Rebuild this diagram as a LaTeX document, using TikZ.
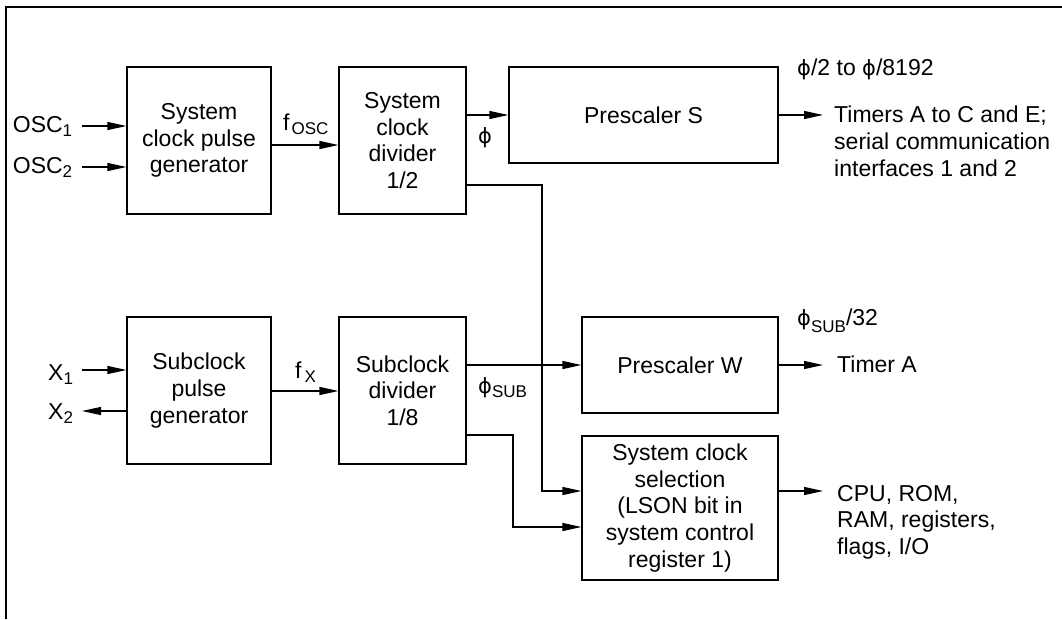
\documentclass[tikz,border=0pt]{standalone}
\usepackage{fontspec}
\setmainfont{Liberation Sans}
\newfontfamily\phifont{DejaVu Sans}
\usetikzlibrary{arrows.meta}
\newcommand{\mysub}[1]{\raisebox{-4pt}{\fontsize{17}{17}\selectfont #1}}
\newcommand{\myphi}{{\phifont\fontsize{21}{21}\selectfont ϕ}}
\begin{document}
\begin{tikzpicture}[x=1pt,y=-1pt,
  box/.style={draw, line width=1.2pt, align=center, inner sep=0pt, font=\fontsize{23}{26.7}\selectfont},
  arr/.style={line width=1.2pt, -{Triangle[length=19pt,width=8pt]}},
  lbl/.style={inner sep=0pt, anchor=base west, font=\fontsize{23}{26.7}\selectfont},
  multi/.style={inner sep=0pt, anchor=north west, align=left, font=\fontsize{23}{26.7}\selectfont}]
\useasboundingbox (0,0) rectangle (1062,619);
% frame
\draw[line width=2pt] (6,619) -- (6,7) -- (1062,7);

% boxes
\node[box, minimum width=144pt, minimum height=147pt] (b1) at (199,140.5) {System\\clock pulse\\generator};
\node[box, minimum width=127pt, minimum height=147pt] (b2) at (402.5,140.5) {System\\clock\\divider\\1/2};
\node[box, minimum width=269pt, minimum height=96pt] (b3) at (643.5,115) {Prescaler S};
\node[box, minimum width=144pt, minimum height=147pt] (b4) at (199,390.5) {Subclock\\pulse\\generator};
\node[box, minimum width=127pt, minimum height=147pt] (b5) at (402.5,390.5) {Subclock\\divider\\1/8};
\node[box, minimum width=196pt, minimum height=96pt] (b6) at (680,365) {Prescaler W};
\node[box, minimum width=196pt, minimum height=144pt] (b7) at (680,508) {System clock\\selection\\(LSON bit in\\system control\\register 1)};

% labels
\node[lbl] (osc1) at (12.7,132) {OSC\mysub{1}};
\node[lbl] (osc2) at (12.7,173) {OSC\mysub{2}};
\node[lbl] (x1) at (48,380) {X\mysub{1}};
\node[lbl] (x2) at (48,419) {X\mysub{2}};
\node[lbl] (fosc) at (283,130) {f\kern2pt\mysub{OSC}};
\node[lbl] (fx) at (295,378) {f\kern3pt\mysub{X}};
\node[lbl] (phi) at (478,143) {\myphi};
\node[lbl] (phisub) at (478,393) {\myphi\raisebox{-4pt}{\fontsize{17}{17}\selectfont SUB}};
\node[lbl] (rs) at (797,75) {\myphi/2 to \myphi/8192};
\node[lbl] (rw) at (797,325) {\myphi\raisebox{-7pt}{\fontsize{17}{17}\selectfont SUB}/32};
\node[multi] (outs) at (834,106) {Timers A to C and E;\\serial communication\\interfaces 1 and 2};
\node[lbl] (outw) at (837,372.7) {Timer A};
\node[multi] (outc) at (837,485) {CPU, ROM,\\RAM, registers,\\flags, I/O};

% coordinates
\coordinate (i1) at (82,126);
\coordinate (i2) at (82,167);
\coordinate (i3) at (82,370);
\coordinate (i4) at (82,411);
\coordinate (fo) at (300,145);
\coordinate (fxx) at (300,391);
\coordinate (j1) at (542,185);
\coordinate (s1) at (542,491);
\coordinate (j2) at (513,435);
\coordinate (s2) at (513,527);
\coordinate (o3) at (823,115);
\coordinate (o6) at (823,365);
\coordinate (o7) at (823,491);

% connectors
\draw[arr] (i1) -- (i1 -| b1.west);
\draw[arr] (i2) -- (i2 -| b1.west);
\draw[arr] (i3) -- (i3 -| b4.west);
\draw[arr] (i4 -| b4.west) -- (i4);
\draw[arr] (fo -| b1.east) -- (fo -| b2.west);
\draw[arr] (fxx -| b4.east) -- (fxx -| b5.west);
\draw[arr] (b2.east |- b3.west) -- (b3.west);
\draw[arr] (b5.east |- b6.west) -- (b6.west);
\draw[arr] (j1 -| b2.east) -- (j1) -- (s1) -- (s1 -| b7.west);
\draw[arr] (j2 -| b5.east) -- (j2) -- (s2) -- (s2 -| b7.west);
\draw[arr] (b3.east) -- (o3);
\draw[arr] (b6.east) -- (o6);
\draw[arr] (s1 -| b7.east) -- (o7);
\end{tikzpicture}
\end{document}
